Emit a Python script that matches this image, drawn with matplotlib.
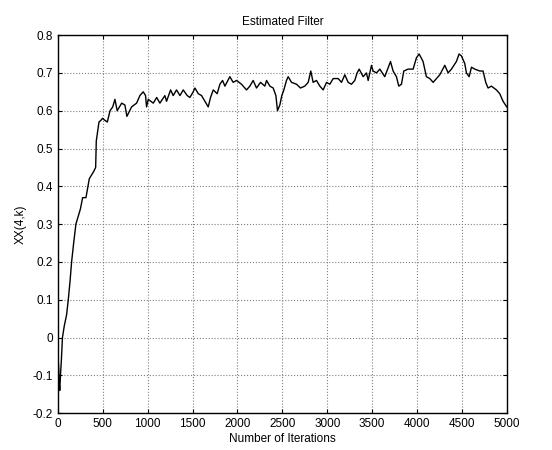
import matplotlib
matplotlib.use("Agg")
import matplotlib.pyplot as plt
from matplotlib.ticker import FuncFormatter

plt.rcParams['font.family'] = ['Liberation Sans', 'DejaVu Sans']
plt.rcParams['axes.unicode_minus'] = False

# values (iteration, estimate)
iterations = [0, 8, 14, 20, 28, 38, 50, 70, 96, 115, 135, 152, 175, 200, 225,
              250, 275, 312, 349, 375, 400, 420, 427, 457, 480, 497, 520, 550,
              580, 610, 635, 660, 710, 746, 768, 820, 876, 913, 950, 976, 987,
              1006, 1062, 1100, 1136, 1191, 1210, 1255, 1284, 1321, 1359, 1396,
              1440, 1470, 1507, 1526, 1563, 1600, 1637, 1674, 1700, 1730, 1774,
              1804, 1834, 1860, 1915, 1952, 1990, 2045, 2101, 2138, 2175, 2212,
              2257, 2305, 2324, 2361, 2398, 2428, 2446, 2472, 2494, 2517, 2546,
              2565, 2602, 2658, 2702, 2750, 2788, 2817, 2843, 2880, 2918, 2955,
              2992, 3029, 3066, 3122, 3159, 3196, 3233, 3270, 3307, 3333, 3356,
              3400, 3437, 3456, 3493, 3511, 3549, 3586, 3641, 3705, 3734, 3771,
              3797, 3827, 3853, 3901, 3957, 3994, 4024, 4068, 4105, 4143, 4180,
              4217, 4254, 4310, 4347, 4384, 4439, 4469, 4495, 4532, 4551, 4581,
              4607, 4644, 4699, 4736, 4766, 4792, 4829, 4885, 4922, 4959, 5000]
estimate = [-0.05, -0.08, -0.12, -0.14, -0.10, -0.06, 0.0, 0.03, 0.06, 0.10, 0.15,
            0.20, 0.25, 0.30, 0.32, 0.34, 0.37, 0.37, 0.42, 0.43, 0.44, 0.45, 0.52,
            0.57, 0.575, 0.58, 0.575, 0.57, 0.60, 0.61, 0.63, 0.60, 0.62, 0.615,
            0.585, 0.61, 0.62, 0.64, 0.65, 0.64, 0.61, 0.63, 0.62, 0.635, 0.62,
            0.64, 0.625, 0.655, 0.64, 0.655, 0.64, 0.655, 0.64, 0.635, 0.65, 0.66,
            0.645, 0.64, 0.625, 0.61, 0.635, 0.655, 0.645, 0.67, 0.68, 0.665, 0.69,
            0.675, 0.68, 0.67, 0.655, 0.665, 0.68, 0.66, 0.675, 0.665, 0.68, 0.665,
            0.66, 0.64, 0.60, 0.615, 0.64, 0.655, 0.68, 0.69, 0.675, 0.67, 0.66,
            0.665, 0.675, 0.705, 0.675, 0.68, 0.665, 0.655, 0.675, 0.67, 0.685,
            0.685, 0.675, 0.695, 0.675, 0.67, 0.68, 0.70, 0.71, 0.69, 0.70, 0.68,
            0.72, 0.705, 0.70, 0.71, 0.69, 0.73, 0.705, 0.69, 0.665, 0.67, 0.705,
            0.71, 0.71, 0.74, 0.75, 0.73, 0.69, 0.685, 0.675, 0.685, 0.695, 0.72,
            0.70, 0.71, 0.73, 0.75, 0.745, 0.725, 0.70, 0.69, 0.715, 0.71, 0.705,
            0.705, 0.675, 0.66, 0.665, 0.655, 0.645, 0.625, 0.61]

xticks = [0, 500, 1000, 1500, 2000, 2500, 3000, 3500, 4000, 4500, 5000]
yticks = [-0.2, -0.1, 0, 0.1, 0.2, 0.3, 0.4, 0.5, 0.6, 0.7, 0.8]

fig = plt.figure(figsize=(5.52, 4.5), dpi=100)
ax = fig.add_axes([0.105, 0.082, 0.813, 0.840])
ax.plot(iterations, estimate, color='black', linewidth=1.0)

ax.set_xlim(0, 5000)
ax.set_ylim(-0.2, 0.8)
ax.set_xticks(xticks)
ax.set_yticks(yticks)
ax.yaxis.set_major_formatter(FuncFormatter(lambda v, p: '%g' % round(v, 1)))
ax.grid(True, color='#808080', linestyle=':', linewidth=0.8)
ax.tick_params(direction='in', length=3, labelsize=8.5, top=True, right=True,
               colors='black')
for s in ax.spines.values():
    s.set_linewidth(1.0)

ax.set_title('Estimated Filter', fontsize=8.5, pad=7)
ax.set_xlabel('Number of Iterations', fontsize=8.5, labelpad=2)
ax.set_ylabel('XX(4,k)', fontsize=8.5, labelpad=4)

fig.savefig('out.png', dpi=100)
